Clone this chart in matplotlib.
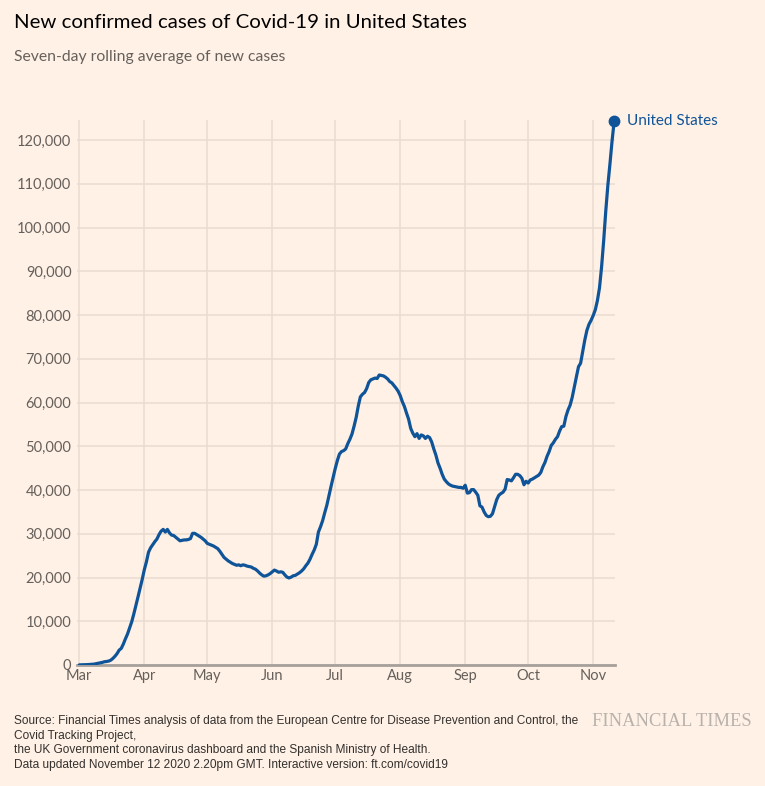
import matplotlib
matplotlib.use("Agg")
import matplotlib.pyplot as plt
import pandas as pd

# ---- data (seven-day average of new cases, thousands), daily from 1 Mar 2020 ----
start_date = "2020-03-01"
cases_k = [
    0.03, 0.04, 0.05, 0.07, 0.09, 0.12, 0.15, 0.2, 0.3, 0.4,
    0.5, 0.6, 0.75, 0.8, 0.9, 1.1, 1.5, 2.0, 2.6, 3.4,
    3.8, 4.8, 6.0, 7.1, 8.5, 9.9, 11.7, 13.6, 15.6, 17.6,
    19.6, 21.8, 23.6, 25.8, 26.8, 27.5, 28.2, 28.8, 29.8, 30.6,
    31.0, 30.4, 31.0, 30.2, 29.7, 29.6, 29.2, 28.8, 28.4, 28.5,
    28.6, 28.6, 28.7, 28.9, 30.1, 30.1, 29.8, 29.5, 29.2, 28.8,
    28.4, 27.8, 27.6, 27.4, 27.2, 26.9, 26.6, 26.0, 25.3, 24.6,
    24.2, 23.8, 23.5, 23.2, 23.0, 22.8, 22.9, 22.7, 22.9, 22.8,
    22.6, 22.5, 22.4, 22.1, 21.9, 21.5, 21.0, 20.6, 20.3, 20.4,
    20.6, 20.9, 21.3, 21.7, 21.5, 21.2, 21.3, 21.2, 20.6, 20.1,
    19.9, 20.1, 20.4, 20.5, 20.8, 21.1, 21.5, 22.0, 22.7, 23.3,
    24.2, 25.3, 26.3, 27.6, 30.4, 31.6, 33.0, 34.8, 36.5, 38.7,
    40.8, 42.9, 44.9, 46.7, 48.2, 48.8, 49.0, 49.4, 50.6, 51.6,
    52.8, 54.6, 56.6, 59.2, 61.3, 61.9, 62.3, 63.2, 64.6, 65.2,
    65.4, 65.6, 65.5, 66.3, 66.2, 66.1, 65.8, 65.4, 64.8, 64.5,
    63.9, 63.3, 62.6, 61.6, 60.2, 59.1, 57.6, 56.2, 54.1, 53.0,
    52.2, 52.9, 51.8, 52.6, 52.4, 51.8, 52.3, 52.0, 51.0, 49.4,
    48.0, 46.2, 45.0, 43.6, 42.5, 41.9, 41.4, 41.1, 40.9, 40.8,
    40.7, 40.6, 40.6, 40.4, 41.1, 39.3, 39.4, 40.1, 40.1, 39.5,
    38.8, 36.4, 36.1, 35.0, 34.2, 33.9, 34.0, 34.6, 36.2, 37.8,
    38.8, 39.2, 39.5, 40.2, 42.4, 42.3, 42.1, 42.8, 43.6, 43.6,
    43.3, 42.7, 41.2, 42.0, 41.6, 42.3, 42.5, 42.8, 43.1, 43.4,
    44.0, 45.3, 46.3, 47.7, 48.8, 50.2, 50.8, 51.6, 52.2, 53.5,
    54.5, 54.6, 56.8, 58.3, 59.4, 61.2, 63.6, 65.9, 68.2, 69.0,
    71.6, 74.3, 76.5, 77.9, 78.8, 79.9, 81.2, 83.3, 86.2, 91.0,
    97.0, 103.8, 109.7, 114.6, 119.8, 124.3,
]
series_name = "United States"
month_ticks = ["2020-03-01", "2020-04-01", "2020-05-01", "2020-06-01", "2020-07-01",
               "2020-08-01", "2020-09-01", "2020-10-01", "2020-11-01"]
month_labels = ["Mar", "Apr", "May", "Jun", "Jul", "Aug", "Sep", "Oct", "Nov"]
y_ticks = list(range(0, 130000, 10000))

title = "New confirmed cases of Covid-19 in United States"
subtitle = "Seven-day rolling average of new cases"
source = ("Source: Financial Times analysis of data from the European Centre for Disease Prevention and Control, the\n"
          "Covid Tracking Project,\n"
          "the UK Government coronavirus dashboard and the Spanish Ministry of Health.\n"
          "Data updated November 12 2020 2.20pm GMT. Interactive version: ft.com/covid19")

# ---- styling ----
BG = "#FFF1E5"
LINE = "#0F5499"
GRID = "#E9DCCF"
TICK = "#66605C"
FONT = ["Lato", "DejaVu Sans"]
plt.rcParams["font.family"] = FONT

W, H = 765, 786
fig = plt.figure(figsize=(W / 100, H / 100), dpi=100, facecolor=BG)

ax_left, ax_right, ax_top, ax_bottom = 77, 615, 120, 665
ax = fig.add_axes([ax_left / W, 1 - ax_bottom / H, (ax_right - ax_left) / W, (ax_bottom - ax_top) / H])
ax.set_facecolor(BG)

dates = pd.date_range(start_date, periods=len(cases_k), freq="D")
values = [v * 1000 for v in cases_k]

ax.plot(dates, values, color=LINE, lw=2.3, solid_capstyle="round", solid_joinstyle="round", zorder=3)
ax.plot(dates[-1:], values[-1:], "o", color=LINE, ms=7.5, zorder=4, clip_on=False)
ax.annotate(series_name, xy=(dates[-1], values[-1]), xytext=(9, 0), textcoords="offset points",
            va="center", ha="left", color=LINE, fontsize=11, annotation_clip=False)

x0 = pd.Timestamp(start_date) - pd.Timedelta(days=1.1)
x1 = dates[-1] + pd.Timedelta(days=0.4)
ax.set_xlim(x0, x1)
ax.set_ylim(0, 124600)

ax.set_xticks([pd.Timestamp(d) for d in month_ticks])
ax.set_xticklabels(month_labels)
ax.set_yticks(y_ticks)
ax.set_yticklabels([f"{v:,}" for v in y_ticks])

ax.grid(True, color=GRID, lw=1.1, zorder=0)
for s in ["top", "right", "left"]:
    ax.spines[s].set_visible(False)
ax.spines["bottom"].set_color("#A7A09A")
ax.spines["bottom"].set_linewidth(2)
ax.spines["bottom"].set_zorder(2)
ax.tick_params(axis="both", length=0, colors=TICK, labelsize=10.5)
ax.tick_params(axis="x", pad=3)
ax.tick_params(axis="y", pad=4)

# ---- texts ----
fig.text(14 / W, 1 - 22 / H, title, fontsize=14.7, color="#000000", va="center", ha="left")
fig.text(14 / W, 1 - 57 / H, subtitle, fontsize=11.3, color=TICK, va="center", ha="left")
fig.text(14 / W, 1 - 715 / H, source, fontsize=8.6, color="#33302E", va="top", ha="left",
         linespacing=1.28, family=["Liberation Sans Narrow", "Liberation Sans", "DejaVu Sans"])
fig.text(752 / W, 1 - 722 / H, "FINANCIAL TIMES", fontsize=13.3, color="#B9B2AC", va="center", ha="right",
         family=["Liberation Serif", "DejaVu Serif"])

fig.savefig("out.png", dpi=100, facecolor=BG)
